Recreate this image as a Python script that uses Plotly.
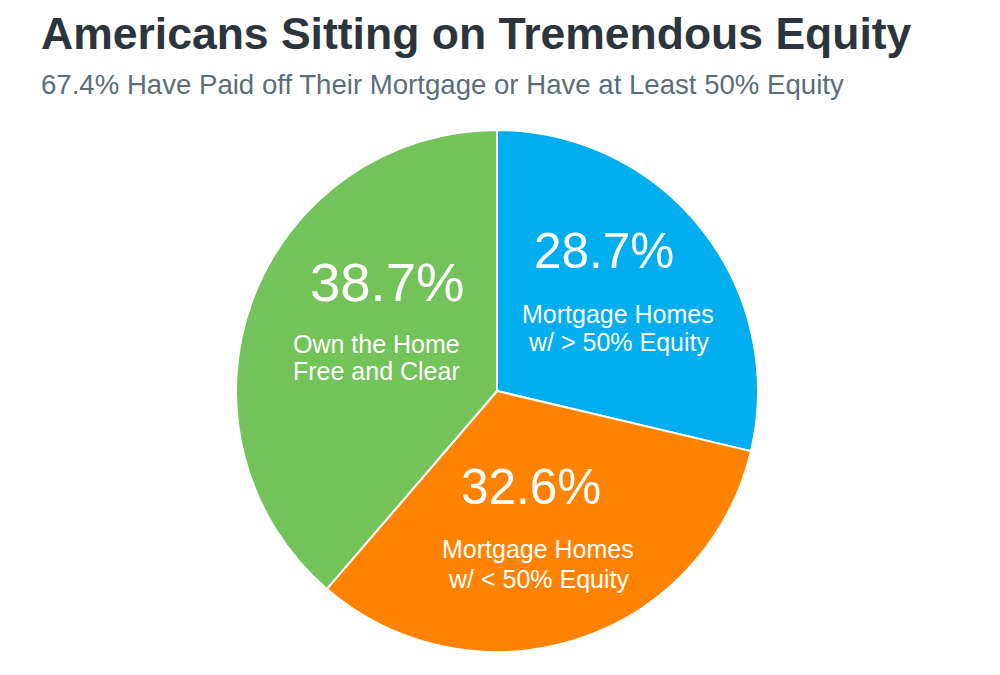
import plotly.graph_objects as go

# ---- data ----
categories = ["Mortgage Homes w/ > 50% Equity", "Mortgage Homes w/ < 50% Equity", "Own the Home Free and Clear"]
values = [28.7, 32.6, 38.7]
pct_labels = ["28.7%", "32.6%", "38.7%"]
label_lines = [["Mortgage Homes", "w/ > 50% Equity"],
               ["Mortgage Homes", "w/ < 50% Equity"],
               ["Own the Home", "Free and Clear"]]
title = "Americans Sitting on Tremendous Equity"
subtitle = "67.4% Have Paid off Their Mortgage or Have at Least 50% Equity"

# ---- style ----
W, H = 1000, 675
colors = ["#00ADEE", "#FF8300", "#74C25A"]
FONT = "Liberation Sans, Arial, Helvetica, sans-serif"
cx, cy, r = 497, 391, 261

# label block layout (pixel centres, baselines, sizes)
label_style = [
    dict(px=604, lx=618, pct_base=267, l1=322, l2=350, pct_size=49.5, lab_size=25),
    dict(px=531, lx=538, pct_base=503, l1=557, l2=587, pct_size=49.5, lab_size=25),
    dict(px=387, lx=376, pct_base=300, l1=352, l2=379, pct_size=54.5, lab_size=25),
]

fig = go.Figure(go.Pie(
    labels=categories,
    values=values,
    sort=False,
    direction="clockwise",
    rotation=0,
    marker=dict(colors=colors, line=dict(color="white", width=2)),
    textinfo="none",
    hoverinfo="label+percent",
    showlegend=False,
    domain=dict(x=[(cx - r) / W, (cx + r) / W], y=[1 - (cy + r) / H, 1 - (cy - r) / H]),
))

def ann(text, x_px, base_px, size):
    # place text so its baseline sits near base_px
    return dict(text=text, x=x_px / W, y=1 - (base_px - 0.33 * size) / H,
                xref="paper", yref="paper", xanchor="center", yanchor="middle",
                showarrow=False, font=dict(family=FONT, size=size, color="white"))

annotations = []
for i, st in enumerate(label_style):
    annotations.append(ann(pct_labels[i], st["px"], st["pct_base"], st["pct_size"]))
    annotations.append(ann(label_lines[i][0], st["lx"], st["l1"], st["lab_size"]))
    annotations.append(ann(label_lines[i][1], st["lx"], st["l2"], st["lab_size"]))

annotations.append(dict(text="<b>" + title + "</b>", x=39 / W, y=1 - (48 - 0.33 * 44.5) / H,
                        xref="paper", yref="paper", xanchor="left", yanchor="middle",
                        showarrow=False, font=dict(family=FONT, size=44.5, color="#2C353D")))
annotations.append(dict(text=subtitle, x=39 / W, y=1 - (94 - 0.33 * 27.6) / H,
                        xref="paper", yref="paper", xanchor="left", yanchor="middle",
                        showarrow=False, font=dict(family=FONT, size=27.6, color="#5A6E78")))

fig.update_layout(
    width=W, height=H,
    margin=dict(l=0, r=0, t=0, b=0),
    paper_bgcolor="white", plot_bgcolor="white",
    annotations=annotations,
)

fig.write_html("out.html")
